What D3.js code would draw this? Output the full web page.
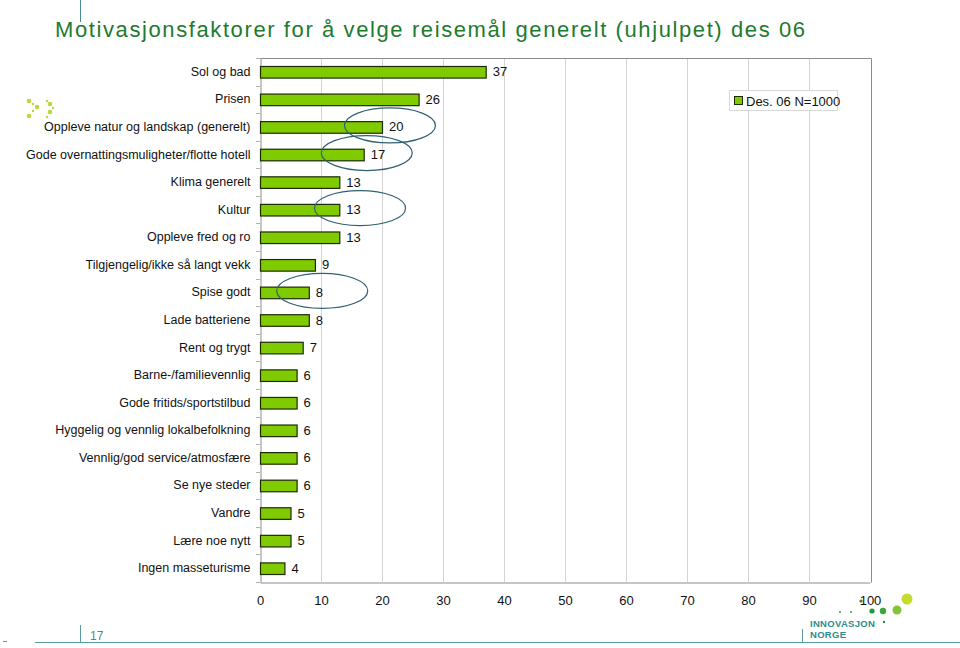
<!DOCTYPE html>
<html><head><meta charset="utf-8">
<script src="https://cdn.jsdelivr.net/npm/d3@7"></script>
<style>body{margin:0;background:#fff}svg{display:block;font-family:"Liberation Sans",Arial,sans-serif}</style>
</head><body><svg id="c" width="960" height="648"></svg>
<script>
const categories = ["Sol og bad","Prisen","Oppleve natur og landskap (generelt)","Gode overnattingsmuligheter/flotte hotell","Klima generelt","Kultur","Oppleve fred og ro","Tilgjengelig/ikke så langt vekk","Spise godt","Lade batteriene","Rent og trygt","Barne-/familievennlig","Gode fritids/sportstilbud","Hyggelig og vennlig lokalbefolkning","Vennlig/god service/atmosfære","Se nye steder","Vandre","Lære noe nytt","Ingen masseturisme"];
const values = [37,26,20,17,13,13,13,9,8,8,7,6,6,6,6,6,5,5,4];
const xTicks = [0,10,20,30,40,50,60,70,80,90,100];
const seriesName = "Des. 06 N=1000";
const title = "Motivasjonsfaktorer for å velge reisemål generelt (uhjulpet) des 06";
const pageNumber = "17";
// highlighted categories (ellipse centre in data units)
const highlights = [["Oppleve natur og landskap (generelt)",21.3],["Gode overnattingsmuligheter/flotte hotell",17.5],["Kultur",16.4],["Spise godt",10.2]];

const svg = d3.select("#c");
const m = {l:260, r:871, t:58, b:582};
const x = d3.scaleLinear().domain([0,100]).range([m.l, m.r-1]);
const y = d3.scaleBand().domain(categories).range([m.t, m.b]).paddingInner(0.58).paddingOuter(0.29);

// title
svg.append("line").attr("x1",80.5).attr("x2",80.5).attr("y1",0).attr("y2",22).attr("stroke","#4a8a96").attr("stroke-width",1);
svg.append("text").attr("x",55).attr("y",37).attr("fill","#1e7a2e").attr("font-size","22px").attr("letter-spacing","1.6px").text(title);

// left decoration dots
const deco = [[29,101],[33,104],[37,107],[33,111],[29,116],[47,101],[50,104],[53,108],[50,112],[47,117]];
svg.selectAll("circle.deco").data(deco).join("circle").attr("class","deco")
  .attr("cx",d=>d[0]).attr("cy",d=>d[1]).attr("r",(d,i)=>i%2===0?2.3:1.2).attr("fill","#bcd73a");

// grid
svg.append("g").selectAll("line").data(xTicks.slice(1,-1)).join("line")
  .attr("x1",d=>x(d)+0.5).attr("x2",d=>x(d)+0.5).attr("y1",m.t).attr("y2",m.b)
  .attr("stroke","#d4d4d4").attr("stroke-width",1);
// frame
svg.append("path").attr("d",`M${m.l+0.5},${m.t+0.5}H${m.r+0.5}V${m.b+0.5}`).attr("fill","none").attr("stroke","#8c8c8c");

// x axis
const xa = svg.append("g").attr("transform",`translate(0,${m.b+0.5})`)
  .call(d3.axisBottom(x).tickValues(xTicks).tickSize(0).tickPadding(13));
xa.select(".domain").attr("stroke","#8c8c8c");
xa.selectAll("text").attr("font-size","13px").attr("fill","#111").attr("font-family","Liberation Sans, Arial, sans-serif");

// y axis
const ya = svg.append("g").attr("transform",`translate(${m.l+0.5},0)`)
  .call(d3.axisLeft(y).tickSize(0).tickPadding(10));
ya.select(".domain").attr("stroke","#8c8c8c");
ya.selectAll("text").attr("font-size","12.5px").attr("fill","#111").attr("font-family","Liberation Sans, Arial, sans-serif");
// boundary tick marks
svg.append("g").selectAll("line").data(d3.range(categories.length+1)).join("line")
  .attr("x1",m.l-4).attr("x2",m.l).attr("y1",i=>Math.round(m.t+i*(m.b-m.t)/categories.length)+0.5)
  .attr("y2",i=>Math.round(m.t+i*(m.b-m.t)/categories.length)+0.5).attr("stroke","#b0b0b0");

// bars
svg.append("g").selectAll("rect").data(values).join("rect")
  .attr("x",x(0)+0.5).attr("y",(d,i)=>y(categories[i])+0.5)
  .attr("width",d=>x(d)-x(0)).attr("height",y.bandwidth())
  .attr("fill","#7fcb00").attr("stroke","#1c2a05").attr("stroke-width",1.2);
svg.append("g").selectAll("text").data(values).join("text")
  .attr("x",d=>x(d)+7).attr("y",(d,i)=>y(categories[i])+y.bandwidth()/2+4.5)
  .attr("font-size","13px").attr("fill","#111").text(d=>d);

// ellipses
svg.append("g").selectAll("ellipse").data(highlights).join("ellipse")
  .attr("cx",d=>x(d[1])).attr("cy",d=>y(d[0])+y.bandwidth()/2-1.5)
  .attr("rx",45.5).attr("ry",17.5).attr("fill","none").attr("stroke","#2f6173").attr("stroke-width",1.2);

// legend
const lg = svg.append("g");
lg.append("rect").attr("x",729.5).attr("y",90.5).attr("width",108).attr("height",20).attr("fill","#fff").attr("stroke","#d8d8d8");
lg.append("rect").attr("x",734.5).attr("y",96.5).attr("width",8).attr("height",8).attr("fill","#7fcb00").attr("stroke","#1c2a05");
lg.append("text").attr("x",746).attr("y",105.5).attr("font-size","13px").attr("fill","#111").text(seriesName);

// footer
svg.append("line").attr("x1",35).attr("x2",960).attr("y1",642.5).attr("y2",642.5).attr("stroke","#5a9aa0").attr("stroke-width",1);
svg.append("line").attr("x1",80.5).attr("x2",80.5).attr("y1",625).attr("y2",642).attr("stroke","#5a9aa0");
svg.append("line").attr("x1",802.5).attr("x2",802.5).attr("y1",629).attr("y2",642).attr("stroke","#5a9aa0");
svg.append("line").attr("x1",3).attr("x2",7).attr("y1",641.5).attr("y2",641.5).attr("stroke","#5a9aa0");
svg.append("text").attr("x",90).attr("y",640).attr("font-size","12px").attr("fill","#4a8a96").text(pageNumber);
// logo
const logoDots = [[840,612,0.9,"#2f8a3c"],[851,612,0.9,"#2f8a3c"],[861,601,1.6,"#2f8a3c"],[872,611,2.6,"#1f9a3a"],[883,611,3.2,"#3aa83a"],[897,610,4.5,"#86c23a"],[907,599,5.5,"#c5dc2a"],[884,622,1.2,"#2f8a3c"]];
svg.append("g").selectAll("circle").data(logoDots).join("circle")
  .attr("cx",d=>d[0]).attr("cy",d=>d[1]).attr("r",d=>d[2]).attr("fill",d=>d[3]);
svg.append("text").attr("x",810).attr("y",627).attr("font-size","9.5px").attr("font-weight","bold").attr("fill","#2d8c8c").attr("letter-spacing","0.3px").text("INNOVASJON");
svg.append("text").attr("x",810).attr("y",638).attr("font-size","9.5px").attr("font-weight","bold").attr("fill","#2d8c8c").attr("letter-spacing","0.3px").text("NORGE");
</script></body></html>
